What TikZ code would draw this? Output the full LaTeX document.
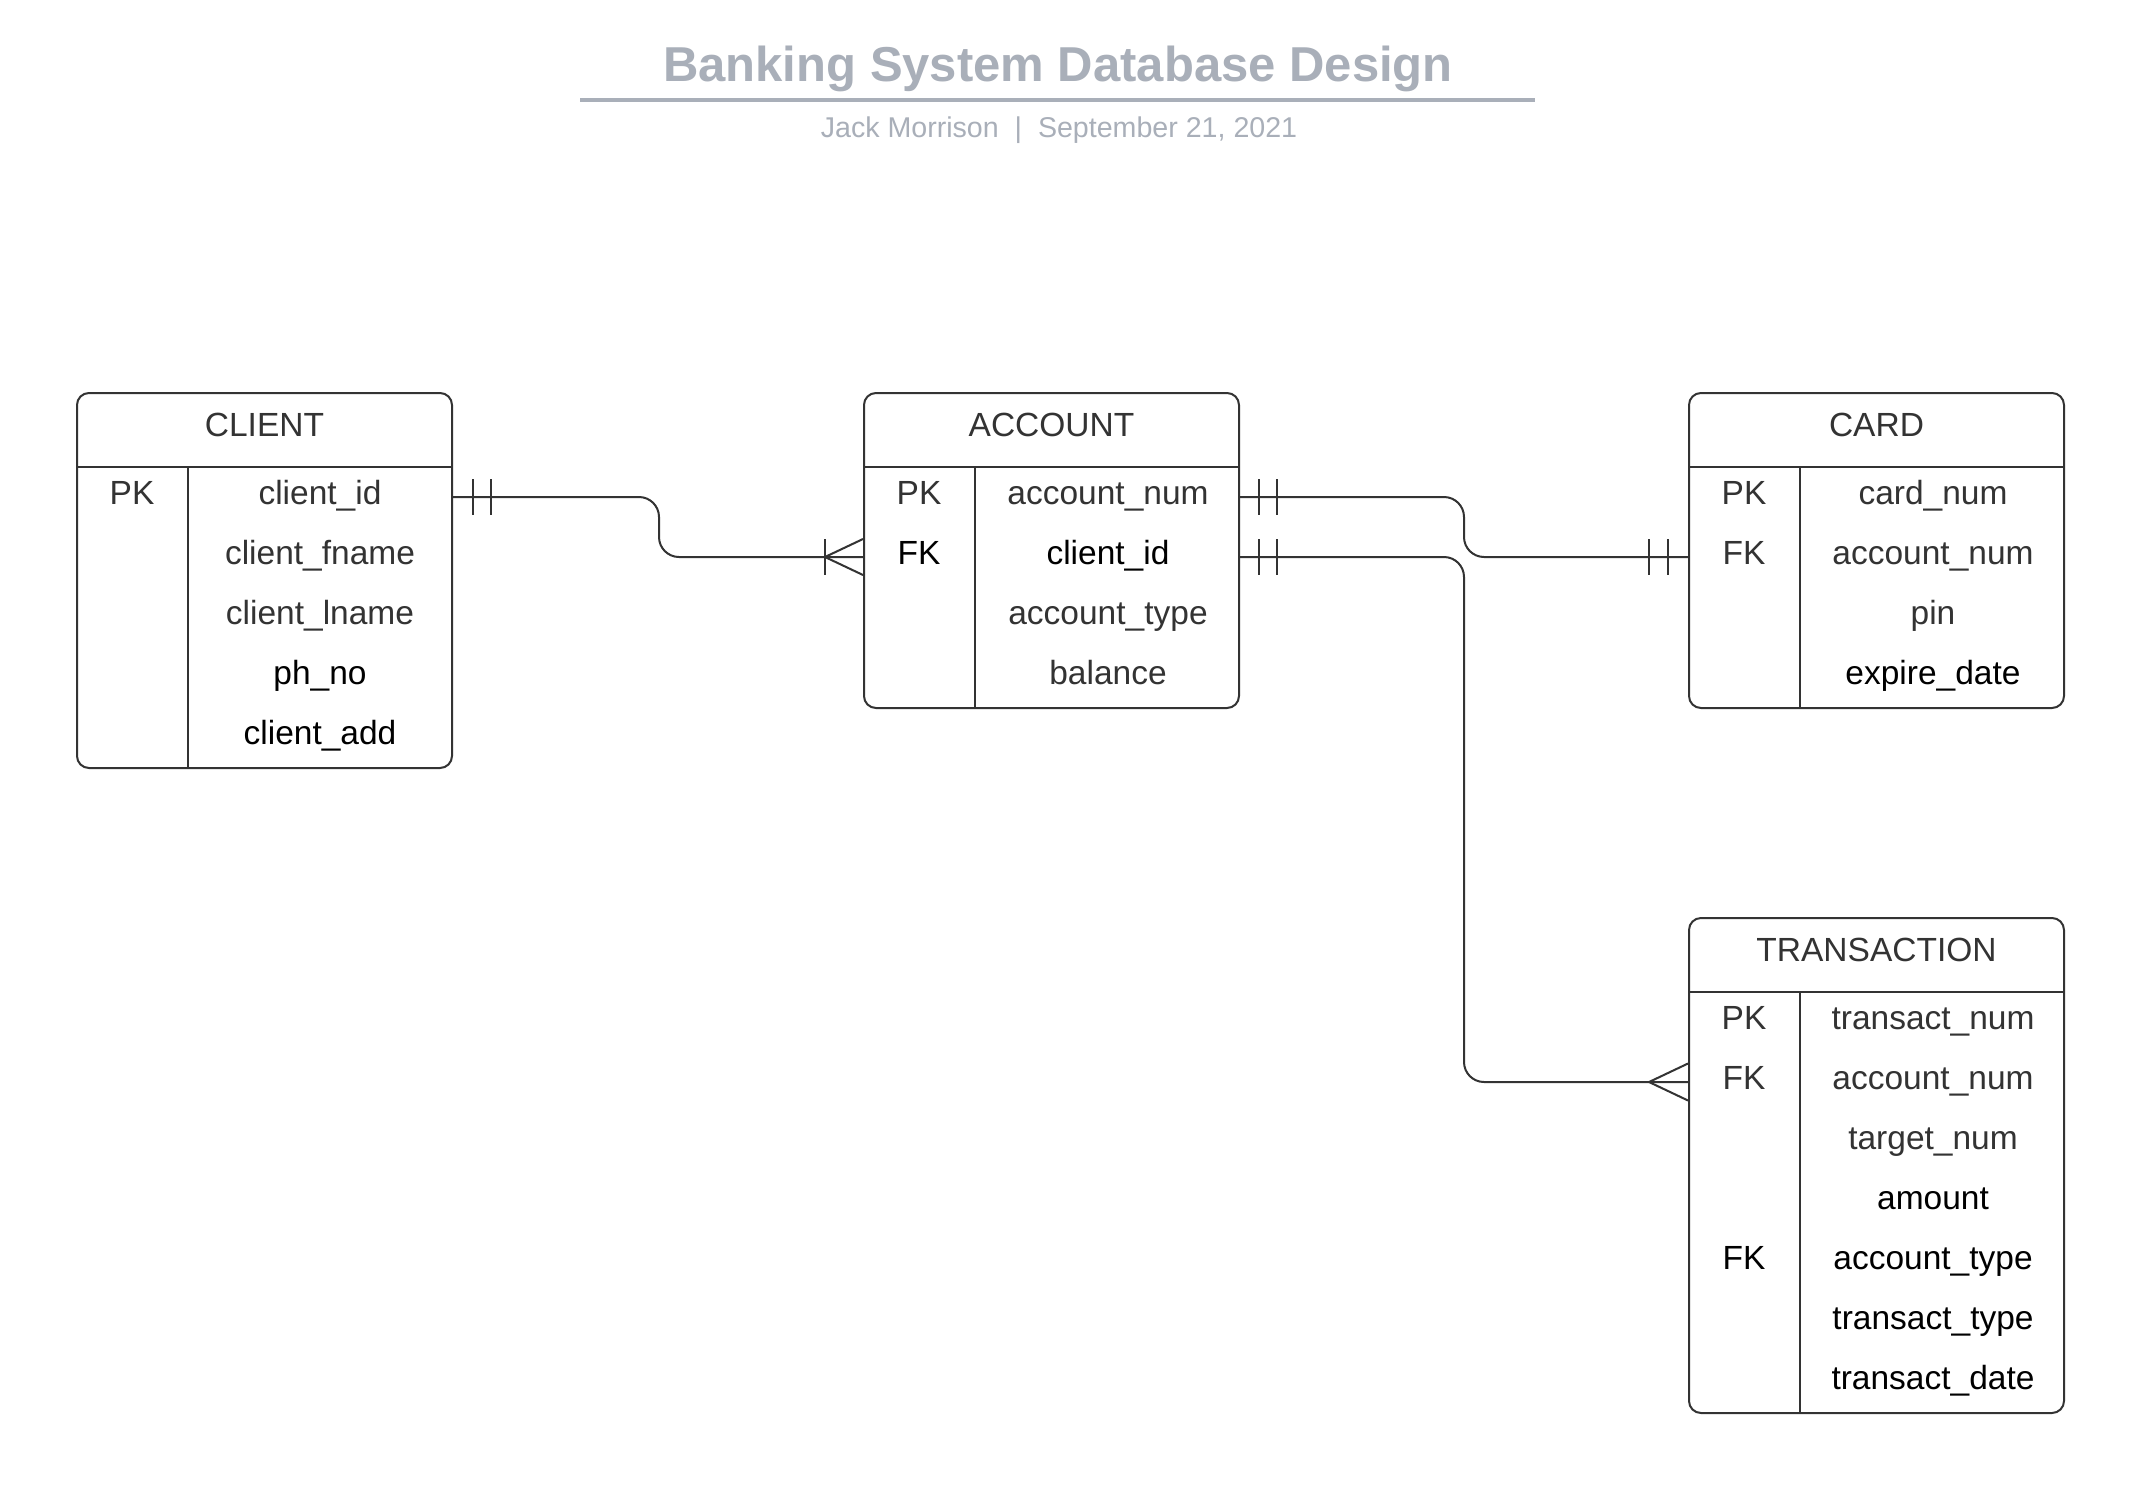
\documentclass[tikz,border=0pt]{standalone}
\usepackage{fontspec}
\setmainfont{Liberation Sans}
\definecolor{linec}{HTML}{333333}
\definecolor{txtg}{HTML}{333333}
\definecolor{ttlc}{HTML}{A9AFB9}
\begin{document}
\begin{tikzpicture}[x=1pt,y=-1pt,
 ent/.style={draw=linec, line width=2pt, rounded corners=12pt, minimum width=375pt, inner sep=0pt, anchor=north west},
 cell/.style={font=\fontsize{33.5}{40}\selectfont, text=txtg, inner sep=0pt, text height=24pt, text depth=10pt},
 blk/.style={cell, text=black},
 sep/.style={draw=linec, line width=2pt},
 colsep/.style={draw=linec, line width=1.4pt},
 rel/.style={draw=linec, line width=2pt, rounded corners=20pt},
 tick/.style={draw=linec, line width=2pt},
]
\useasboundingbox (0,0) rectangle (2131,1486);
\fill[white] (0,0) rectangle (2131,1486);

% Title
\node[font=\fontsize{49}{58}\selectfont\bfseries, text=ttlc, anchor=base, inner sep=0pt] (title) at (1058,81) {Banking System Database Design};
\draw[ttlc, line width=4pt] (580,99.5) -- (1535,99.5);
\node[font=\fontsize{28.6}{34}\selectfont, text=ttlc, anchor=base, inner sep=0pt] (sub) at (1059,137) {Jack Morrison~~|~~September 21, 2021};

% CLIENT
\node[ent, minimum height=375pt] (client) at (76,392) {};
\draw[sep] ([yshift=-75pt]client.north west) -- ([yshift=-75pt]client.north east);
\draw[colsep] ([xshift=112pt,yshift=-75pt]client.north west) -- ([xshift=112pt]client.south west);
\node[cell] (client-t) at ([yshift=-37.5pt]client.north) {CLIENT};
\node[cell] (cl-pk) at (132,497) {PK};
\node[cell] (cl-id) at (320,497) {client\_id};
\node[cell] (cl-fn) at (320,557) {client\_fname};
\node[cell] (cl-ln) at (320,617) {client\_lname};
\node[blk] (cl-ph) at (320,677) {ph\_no};
\node[blk] (cl-ad) at (320,737) {client\_add};

% ACCOUNT
\node[ent, minimum height=315pt] (account) at (863,392) {};
\draw[sep] ([yshift=-75pt]account.north west) -- ([yshift=-75pt]account.north east);
\draw[colsep] ([xshift=112pt,yshift=-75pt]account.north west) -- ([xshift=112pt]account.south west);
\node[cell] (account-t) at ([yshift=-37.5pt]account.north) {ACCOUNT};
\node[cell] (ac-pk) at (919,497) {PK};
\node[blk] (ac-fk) at (919,557) {FK};
\node[cell] (ac-num) at (1108,497) {account\_num};
\node[blk] (ac-cid) at (1108,557) {client\_id};
\node[cell] (ac-typ) at (1108,617) {account\_type};
\node[cell] (ac-bal) at (1108,677) {balance};

% CARD
\node[ent, minimum height=315pt] (card) at (1688,392) {};
\draw[sep] ([yshift=-75pt]card.north west) -- ([yshift=-75pt]card.north east);
\draw[colsep] ([xshift=112pt,yshift=-75pt]card.north west) -- ([xshift=112pt]card.south west);
\node[cell] (card-t) at ([yshift=-37.5pt]card.north) {CARD};
\node[cell] (cd-pk) at (1744,497) {PK};
\node[cell] (cd-fk) at (1744,557) {FK};
\node[cell] (cd-num) at (1933,497) {card\_num};
\node[cell] (cd-anum) at (1933,557) {account\_num};
\node[cell] (cd-pin) at (1933,617) {pin};
\node[blk] (cd-exp) at (1933,677) {expire\_date};

% TRANSACTION
\node[ent, minimum height=495pt] (trans) at (1688,917) {};
\draw[sep] ([yshift=-75pt]trans.north west) -- ([yshift=-75pt]trans.north east);
\draw[colsep] ([xshift=112pt,yshift=-75pt]trans.north west) -- ([xshift=112pt]trans.south west);
\node[cell] (trans-t) at ([yshift=-37.5pt]trans.north) {TRANSACTION};
\node[cell] (tr-pk) at (1744,1022) {PK};
\node[cell] (tr-fk1) at (1744,1082) {FK};
\node[blk] (tr-fk2) at (1744,1262) {FK};
\node[cell] (tr-num) at (1933,1022) {transact\_num};
\node[cell] (tr-anum) at (1933,1082) {account\_num};
\node[cell] (tr-tgt) at (1933,1142) {target\_num};
\node[blk] (tr-amt) at (1933,1202) {amount};
\node[blk] (tr-atyp) at (1933,1262) {account\_type};
\node[blk] (tr-ttyp) at (1933,1322) {transact\_type};
\node[blk] (tr-date) at (1933,1382) {transact\_date};

% connection points
\coordinate (p1) at (client.east |- cl-id);
\coordinate (p2) at (account.west |- ac-cid);
\coordinate (p3) at (account.east |- ac-num);
\coordinate (p4) at (account.east |- ac-cid);
\coordinate (p5) at (card.west |- cd-anum);
\coordinate (p6) at (trans.west |- tr-anum);

% connectors
\draw[rel] (p1) -- ++(206,0) |- (p2);
\draw[rel] (p3) -- ++(224,0) |- (p5);
\draw[rel] (p4) -- ++(224,0) |- (p6);

% one-and-only-one marks
\foreach \d in {20,38} {\draw[tick] ([xshift=\d pt]p1) ++(0,-18) -- ++(0,36);}
\foreach \d in {19,37} {\draw[tick] ([xshift=\d pt]p3) ++(0,-18) -- ++(0,36);}
\foreach \d in {19,37} {\draw[tick] ([xshift=\d pt]p4) ++(0,-18) -- ++(0,36);}
\foreach \d in {20,39} {\draw[tick] ([xshift=-\d pt]p5) ++(0,-18) -- ++(0,36);}

% one-or-many at ACCOUNT
\draw[tick] ([xshift=-38pt]p2) ++(0,-18) -- ++(0,36);
\draw[tick] ([yshift=18pt]p2) -- ([xshift=-38pt]p2) -- ([yshift=-18pt]p2);
% many at TRANSACTION
\draw[tick] ([yshift=18.5pt]p6) -- ([xshift=-39pt]p6) -- ([yshift=-18.5pt]p6);
\end{tikzpicture}
\end{document}
